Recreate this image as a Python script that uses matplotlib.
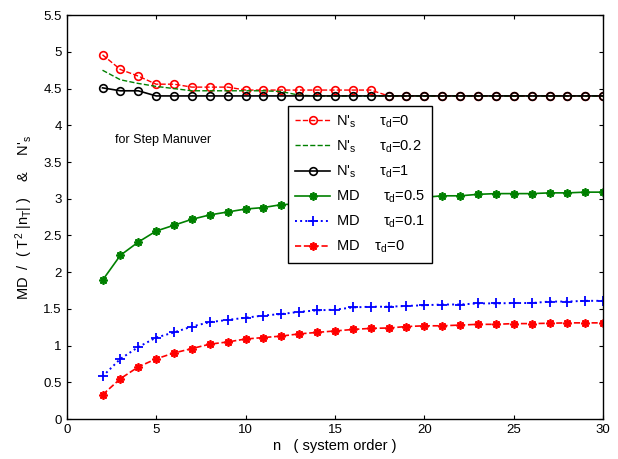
import matplotlib
matplotlib.use("Agg")
import matplotlib.pyplot as plt

plt.rcParams['font.family'] = ['Liberation Sans', 'DejaVu Sans']
plt.rcParams['mathtext.fontset'] = 'custom'
plt.rcParams['mathtext.rm'] = 'Liberation Sans'
plt.rcParams['mathtext.it'] = 'Liberation Sans'
plt.rcParams['mathtext.sf'] = 'Liberation Sans'

n = list(range(2, 31))

ns_tau0 = [4.96, 4.76, 4.67, 4.56, 4.56, 4.52, 4.52, 4.52, 4.48, 4.48, 4.48, 4.48, 4.48,
           4.48, 4.48, 4.48, 4.40, 4.40, 4.40, 4.40, 4.40, 4.40, 4.40, 4.40, 4.40, 4.40,
           4.40, 4.40, 4.40]
ns_tau02 = [4.75, 4.62, 4.57, 4.53, 4.50, 4.47, 4.47, 4.47, 4.47, 4.47, 4.46, 4.41, 4.40,
            4.40, 4.40, 4.40, 4.40, 4.40, 4.40, 4.40, 4.40, 4.40, 4.40, 4.40, 4.40, 4.40,
            4.40, 4.40, 4.40]
ns_tau1 = [4.51, 4.47, 4.47, 4.40, 4.40, 4.40, 4.40, 4.40, 4.40, 4.40, 4.40, 4.40, 4.40,
           4.40, 4.40, 4.40, 4.40, 4.40, 4.40, 4.40, 4.40, 4.40, 4.40, 4.40, 4.40, 4.40,
           4.40, 4.40, 4.40]
md_tau05 = [1.89, 2.23, 2.41, 2.56, 2.64, 2.72, 2.78, 2.82, 2.86, 2.88, 2.92, 2.93, 2.95,
            2.96, 2.97, 2.99, 3.00, 3.01, 3.02, 3.04, 3.04, 3.06, 3.07, 3.07, 3.07, 3.08,
            3.08, 3.09, 3.09]
md_tau01 = [0.58, 0.82, 0.98, 1.11, 1.18, 1.26, 1.32, 1.35, 1.38, 1.41, 1.43, 1.46, 1.48,
            1.49, 1.52, 1.53, 1.53, 1.54, 1.55, 1.56, 1.56, 1.575, 1.575, 1.58, 1.58, 1.60,
            1.60, 1.61, 1.61]
md_tau0 = [0.33, 0.55, 0.71, 0.82, 0.90, 0.96, 1.02, 1.05, 1.09, 1.11, 1.13, 1.16, 1.18,
           1.20, 1.22, 1.235, 1.24, 1.26, 1.27, 1.27, 1.28, 1.29, 1.29, 1.30, 1.30, 1.305,
           1.31, 1.31, 1.31]

labels = [r"N$'_{\rm s}$      $\tau_{\rm d}$=0",
          r"N$'_{\rm s}$      $\tau_{\rm d}$=0.2",
          r"N$'_{\rm s}$      $\tau_{\rm d}$=1",
          r"MD      $\tau_{\rm d}$=0.5",
          r"MD      $\tau_{\rm d}$=0.1",
          r"MD    $\tau_{\rm d}$=0"]

fig = plt.figure(figsize=(6.18, 4.59), dpi=100)
ax = fig.add_axes([0.108, 0.087, 0.868, 0.880])

star = (8, 2, 0)
ax.plot(n, ns_tau0, color='red', ls='--', lw=1.0, marker='o', mfc='none', ms=5.5, mew=1.2, label=labels[0])
ax.plot(n, ns_tau02, color='green', ls='--', lw=1.0, label=labels[1])
ax.plot(n, ns_tau1, color='black', ls='-', lw=1.2, marker='o', mfc='none', ms=5.5, mew=1.2, label=labels[2])
ax.plot(n, md_tau05, color='green', ls='-', lw=1.2, marker=star, ms=6, mew=1.3, label=labels[3])
ax.plot(n, md_tau01, color='blue', ls=':', lw=1.4, marker='+', ms=7, mew=1.3, label=labels[4])
ax.plot(n, md_tau0, color='red', ls='--', lw=1.2, marker=star, ms=6, mew=1.3, label=labels[5])

ax.set_xlim(0, 30)
ax.set_ylim(0, 5.5)
ax.set_xticks([0, 5, 10, 15, 20, 25, 30])
ax.set_yticks([0, 0.5, 1, 1.5, 2, 2.5, 3, 3.5, 4, 4.5, 5, 5.5])
ax.set_yticklabels(['0', '0.5', '1', '1.5', '2', '2.5', '3', '3.5', '4', '4.5', '5', '5.5'])
ax.tick_params(direction='in', top=True, right=True, labelsize=9.5, length=3)
for s in ax.spines.values():
    s.set_linewidth(1.0)

ax.set_xlabel("n   ( system order )", fontsize=10.5, labelpad=2)
ax.set_ylabel(r"MD  /  ( T$^2$ |n$_{\rm T}$| )    &    N$'_{\rm s}$", fontsize=10.5, labelpad=6)

ax.text(2.69, 3.80, "for Step Manuver", fontsize=9, va='center', ha='left')

leg = ax.legend(loc='upper left', bbox_to_anchor=(0.412, 0.775), fontsize=10.5,
                fancybox=False, framealpha=1, edgecolor='black', handlelength=2.4,
                labelspacing=0.6, borderpad=0.5, handletextpad=0.4, borderaxespad=0)
leg.get_frame().set_linewidth(1.0)

fig.savefig("out.png", dpi=100)
